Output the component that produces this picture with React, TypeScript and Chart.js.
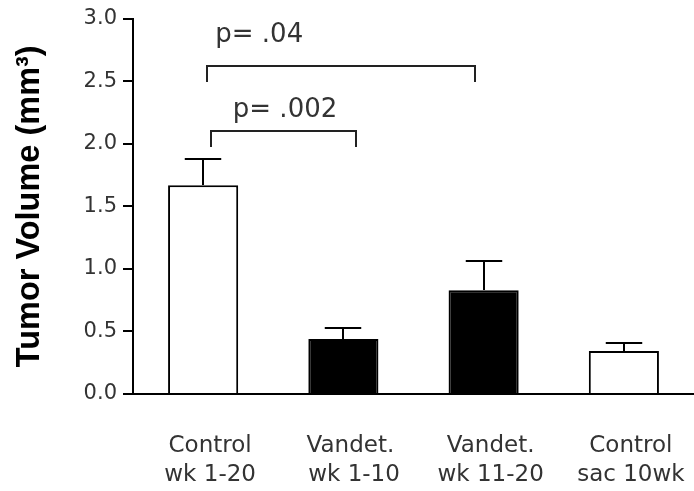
import React, { useEffect, useRef } from "react";
import { Chart, registerables } from "chart.js";

Chart.register(...registerables);

// ---- data ----
const categories: string[][] = [
  ["Control", "wk 1-20"],
  ["Vandet.", " wk 1-10"],
  ["Vandet.", "wk 11-20"],
  ["Control", "sac 10wk"],
];
const meanVolume = [1.668, 0.439, 0.83, 0.343];
const semVolume = [0.207, 0.088, 0.231, 0.064];
const barFill = ["#ffffff", "#000000", "#000000", "#ffffff"];
const yTicks = [0, 0.5, 1.0, 1.5, 2.0, 2.5, 3.0];

// significance comparisons (category index / data units)
const cmpFrom = [0.03, 0.057];
const cmpTo = [1.94, 1.09];
const cmpBarY = [2.625, 2.1];
const cmpLegY = [2.49, 1.97];
const cmpLabel = ["p= .04", "p= .002"];
const cmpLabelX = [0.4, 0.584];
const cmpLabelY = [2.816, 2.21];

const TEXT = "#333333";
const FONT = "'DejaVu Sans', sans-serif";

const overlayPlugin = {
  id: "overlay",
  afterDatasetsDraw(chart: any) {
    const { ctx, scales } = chart;
    const x = scales.x;
    const y = scales.y;
    const meta = chart.getDatasetMeta(0);
    ctx.save();
    ctx.strokeStyle = "#000";
    ctx.lineWidth = 2;
    ctx.lineCap = "butt";
    meta.data.forEach((bar: any, i: number) => {
      const p = bar.getProps(["x", "width"], true);
      const top = Math.round(y.getPixelForValue(meanVolume[i] + semVolume[i]));
      const base = Math.round(y.getPixelForValue(meanVolume[i]));
      const cx = Math.round(p.x);
      const half = p.width * 0.26;
      ctx.beginPath();
      ctx.moveTo(cx, base);
      ctx.lineTo(cx, top);
      ctx.moveTo(cx - half, top);
      ctx.lineTo(cx + half, top);
      ctx.stroke();
    });
    ctx.strokeStyle = "#222";
    cmpFrom.forEach((f, i) => {
      const x1 = Math.round(x.getPixelForValue(f));
      const x2 = Math.round(x.getPixelForValue(cmpTo[i]));
      const yb = Math.round(y.getPixelForValue(cmpBarY[i]));
      const yl = Math.round(y.getPixelForValue(cmpLegY[i]));
      ctx.beginPath();
      ctx.moveTo(x1, yl);
      ctx.lineTo(x1, yb);
      ctx.lineTo(x2, yb);
      ctx.lineTo(x2, yl);
      ctx.stroke();
      ctx.fillStyle = TEXT;
      ctx.font = `26px ${FONT}`;
      ctx.textAlign = "center";
      ctx.textBaseline = "alphabetic";
      ctx.fillText(
        cmpLabel[i],
        x.getPixelForValue(cmpLabelX[i]),
        y.getPixelForValue(cmpLabelY[i])
      );
    });
    ctx.restore();
  },
};

export default function App() {
  const ref = useRef<HTMLCanvasElement | null>(null);
  useEffect(() => {
    if (!ref.current) return;
    const chart = new Chart(ref.current, {
      type: "bar",
      data: {
        labels: categories as any,
        datasets: [
          {
            data: meanVolume,
            backgroundColor: barFill,
            borderColor: "#000",
            borderWidth: 2,
            barPercentage: 0.5,
            categoryPercentage: 1,
          },
        ],
      },
      options: {
        responsive: false,
        animation: false,
        layout: { padding: { top: 18, right: 0, left: 0, bottom: 0 } },
        plugins: {
          legend: { display: false },
          tooltip: { enabled: false },
        },
        scales: {
          x: {
            offset: true,
            grid: { display: false, drawTicks: false },
            border: { display: true, color: "#000", width: 2 },
            ticks: {
              color: TEXT,
              font: { family: FONT, size: 23, lineHeight: 1.26 },
              padding: 38,
              labelOffset: 7,
              maxRotation: 0,
              autoSkip: false,
            },
            afterFit: (s: any) => {
              s.height = 97;
              s.paddingRight = 0;
              s.paddingLeft = 0;
            },
          },
          y: {
            min: 0,
            max: 3,
            afterBuildTicks: (s: any) => {
              s.ticks = yTicks.map((v) => ({ value: v }));
            },
            grid: {
              drawOnChartArea: false,
              drawTicks: true,
              tickLength: 10,
              color: "#000",
              lineWidth: 2,
            },
            border: { display: true, color: "#000", width: 2 },
            ticks: {
              color: TEXT,
              font: { family: FONT, size: 21 },
              padding: 6,
              callback: (v: any) => Number(v).toFixed(1),
            },
            title: {
              display: true,
              text: "Tumor Volume (mm³)",
              color: "#000",
              font: { family: "'Liberation Sans', Arial, sans-serif", size: 32.5, weight: "bold" },
              padding: { top: 11, bottom: 0 },
            },
            afterFit: (s: any) => {
              s.width = 133;
            },
          },
        },
      },
      plugins: [overlayPlugin],
    });
    return () => chart.destroy();
  }, []);
  return (
    <div style={{ position: "absolute", left: 0, top: 0, width: 694, height: 491, background: "#fff" }}>
      <canvas ref={ref} width={694} height={491} style={{ display: "block" }} />
    </div>
  );
}
